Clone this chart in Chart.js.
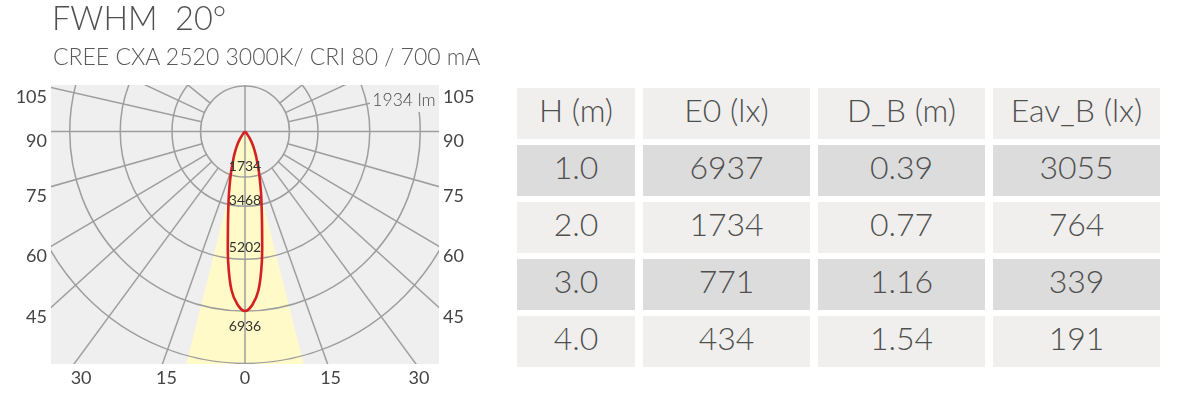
<!DOCTYPE html>
<html>
<head>
<meta charset="utf-8">
<script src="https://cdn.jsdelivr.net/npm/chart.js@4.4.0/dist/chart.umd.min.js"></script>
<style>
html,body{margin:0;padding:0;background:#fff;width:1182px;height:394px;overflow:hidden;font-family:Lato,"Open Sans",sans-serif;}
#title{position:absolute;left:52px;top:-2px;font-size:32.5px;font-weight:300;color:#505050;white-space:pre;}
#subtitle{position:absolute;left:53px;top:42px;font-size:23px;font-weight:300;color:#595959;white-space:pre;}
#wrap{position:absolute;left:0;top:0;width:500px;height:394px;}
#tbl{position:absolute;left:517px;top:88px;display:grid;grid-template-columns:118px 167px 167px 167px;grid-template-rows:repeat(5,51px);column-gap:8px;row-gap:6px;}
.cell{display:flex;align-items:center;justify-content:center;font-size:32px;font-weight:300;color:#4f4f4f;background:#f0efee;box-sizing:border-box;padding-bottom:9px;}
.dark{background:#dcdcdc;}
</style>
</head>
<body>
<div id="wrap"><canvas id="c" width="500" height="394"></canvas></div>
<div id="title"></div>
<div id="subtitle"></div>
<div id="tbl"></div>
<script>
// ---------------- data ----------------
const titleText = 'FWHM  20°';
const subtitleText = 'CREE CXA 2520 3000K/ CRI 80 / 700 mA';
const fluxLabel = '1934 lm';

// luminous intensity (cd) vs angle from nadir (deg), symmetric distribution
const curveAngles    = [0, 2.5, 5, 7.5, 10, 12.5, 15, 17.5, 20, 22.5, 25, 30, 35, 40, 45, 50];
const curveIntensity = [6936, 6700, 6150, 5100, 3900, 3050, 2450, 1950, 1580, 1250, 1020, 650, 340, 130, 30, 0];

// beam cone half angle (deg)
const coneHalfAngle = 14.5;

// polar grid: ring values (cd) and spoke angles (deg from nadir)
const ringValues  = [1760, 2890, 4940, 6940, 8960];
const spokeAngles = [20, 37, 48.5, 60, 74.5, 102.5, 114.5, 128.5];

// intensity labels along the nadir
const ringLabels = ['1734', '3468', '5202', '6936'];

// angle tick labels
const sideTickLabels   = ['105', '90', '75', '60', '45'];
const sideTickAngles   = [102.5, 90, 74.5, 60, 48.5];
const bottomTickLabels = ['30', '15', '0', '15', '30'];
const bottomTickAngles = [-36.5, -20, 0, 20, 37];

// table
const tableHeaders = ['H (m)', 'E0 (lx)', 'D_B (m)', 'Eav_B (lx)'];
const heightsM = [1.0, 2.0, 3.0, 4.0];
const e0Lux    = [6937, 1734, 771, 434];
const dBm      = [0.39, 0.77, 1.16, 1.54];
const eavBLux  = [3055, 764, 339, 191];

// ---------------- layout ----------------
const X_MAX = 7682, Y_MIN = -8984, Y_MAX = 1797;
const ringLabelOffsets = [34.5, 68.5, 115.5, 194.5]; // px below center
const FONT = 'Lato, "Open Sans", sans-serif';
const GRID = 'rgb(158,158,158)';
const BG = '#efefef';
const YELLOW = 'rgb(255,250,200)';
const RED = 'rgb(212,32,32)';

document.getElementById('title').textContent = titleText;
document.getElementById('subtitle').textContent = subtitleText;

// table
const tbl = document.getElementById('tbl');
function addCell(txt, dark){ const d=document.createElement('div'); d.className='cell'+(dark?' dark':''); d.textContent=txt; tbl.appendChild(d); }
tableHeaders.forEach(h=>addCell(h,false));
heightsM.forEach((h,i)=>{
  const dark = i%2===0;
  addCell(h.toFixed(1),dark); addCell(String(e0Lux[i]),dark); addCell(dBm[i].toFixed(2),dark); addCell(String(eavBLux[i]),dark);
});

// ---------------- polar -> cartesian ----------------
const rad = d => d*Math.PI/180;
const curvePts = [];
for (let i = curveAngles.length-1; i > 0; i--) { const a=-curveAngles[i], I=curveIntensity[i]; curvePts.push({x:I*Math.sin(rad(a)), y:-I*Math.cos(rad(a))}); }
for (let i = 0; i < curveAngles.length; i++) { const a=curveAngles[i], I=curveIntensity[i]; curvePts.push({x:I*Math.sin(rad(a)), y:-I*Math.cos(rad(a))}); }
const FAR = 30000;
const conePts = [{x:0,y:0},{x:-FAR*Math.sin(rad(coneHalfAngle)),y:-FAR*Math.cos(rad(coneHalfAngle))},{x:FAR*Math.sin(rad(coneHalfAngle)),y:-FAR*Math.cos(rad(coneHalfAngle))}];

const bgPlugin = {
  id:'bg',
  beforeDatasetsDraw(chart){
    const {ctx, chartArea:a} = chart;
    ctx.save(); ctx.fillStyle = BG; ctx.fillRect(a.left, a.top, a.right-a.left, a.bottom-a.top); ctx.restore();
  }
};

const gridPlugin = {
  id:'polarGrid',
  afterDatasetDraw(chart, args){
    if (args.index !== 1) return;
    const {ctx, chartArea:a, scales:{x:xs, y:ys}} = chart;
    const px = (x,y)=>[xs.getPixelForValue(x), ys.getPixelForValue(y)];
    const [cx, cy] = px(0,0);
    ctx.save();
    ctx.beginPath(); ctx.rect(a.left, a.top, a.right-a.left, a.bottom-a.top); ctx.clip();
    ctx.strokeStyle = GRID; ctx.lineWidth = 1.5;
    ringValues.forEach(r=>{
      const rx = xs.getPixelForValue(r)-cx, ry = cy-ys.getPixelForValue(r);
      ctx.beginPath(); ctx.ellipse(cx, cy, rx, ry, 0, 0, Math.PI*2); ctx.stroke();
    });
    const r0 = ringValues[0];
    spokeAngles.forEach(t=>{
      [-1,1].forEach(s=>{
        const [x0,y0] = px(s*r0*Math.sin(rad(t)), -r0*Math.cos(rad(t)));
        const [x1,y1] = px(s*FAR*Math.sin(rad(t)), -FAR*Math.cos(rad(t)));
        ctx.beginPath(); ctx.moveTo(x0,y0); ctx.lineTo(x1,y1); ctx.stroke();
      });
    });
    ctx.beginPath(); ctx.moveTo(cx, a.top); ctx.lineTo(cx, a.bottom); ctx.stroke();
    ctx.beginPath(); ctx.moveTo(a.left, cy); ctx.lineTo(a.right, cy); ctx.stroke();
    // flux label box
    ctx.fillStyle = BG; ctx.fillRect(370, a.top, a.right-370, 27);
    ctx.fillStyle = '#4a4a4a'; ctx.font = '300 17.5px '+FONT; ctx.textAlign='center'; ctx.textBaseline='middle';
    ctx.fillText(fluxLabel, 404, 100);
    ctx.restore();
  },
  afterDraw(chart){
    const {ctx, chartArea:a, scales:{x:xs, y:ys}} = chart;
    const cx = xs.getPixelForValue(0), cy = ys.getPixelForValue(0);
    ctx.save();
    // ring labels
    ctx.fillStyle = '#333'; ctx.font = '14px '+FONT; ctx.textAlign='center'; ctx.textBaseline='middle';
    ringLabels.forEach((t,i)=>ctx.fillText(t, cx, cy+ringLabelOffsets[i]));
    // side ticks
    ctx.fillStyle = '#444'; ctx.font = '18px '+FONT; ctx.textBaseline='middle';
    sideTickAngles.forEach((t,i)=>{
      const dirX = Math.sin(rad(t)), dirY = -Math.cos(rad(t));
      const k = X_MAX/dirX;
      const yp = Math.max(ys.getPixelForValue(k*dirY) + 10, a.top + 8);
      ctx.textAlign='right'; ctx.fillText(sideTickLabels[i], a.left-4, yp);
      ctx.textAlign='left'; ctx.fillText(sideTickLabels[i], a.right+4, yp);
    });
    // bottom ticks
    ctx.textAlign='center';
    bottomTickAngles.forEach((t,i)=>{
      const xv = -Y_MIN*Math.tan(rad(t));
      ctx.fillText(bottomTickLabels[i], xs.getPixelForValue(xv) + (t<0?4:(t>0?3:0)), a.bottom+14);
    });
    ctx.restore();
  }
};

new Chart(document.getElementById('c'), {
  type:'scatter',
  data:{ datasets:[
    {data:conePts, showLine:true, fill:'shape', backgroundColor:YELLOW, borderWidth:0, pointRadius:0, order:3, clip:0},
    {data:curvePts, showLine:true, fill:'shape', backgroundColor:YELLOW, borderWidth:0, pointRadius:0, tension:0.35, order:2, clip:0},
    {data:curvePts, showLine:true, fill:false, borderColor:RED, borderWidth:2.6, pointRadius:0, tension:0.35, order:1, clip:0}
  ]},
  options:{
    responsive:false, animation:false, devicePixelRatio:1,
    layout:{padding:{left:51, top:85, right:61, bottom:30}},
    scales:{
      x:{type:'linear', min:-X_MAX, max:X_MAX, display:false},
      y:{type:'linear', min:Y_MIN, max:Y_MAX, display:false}
    },
    plugins:{legend:{display:false}, tooltip:{enabled:false}}
  },
  plugins:[bgPlugin, gridPlugin]
});
</script>
</body>
</html>
